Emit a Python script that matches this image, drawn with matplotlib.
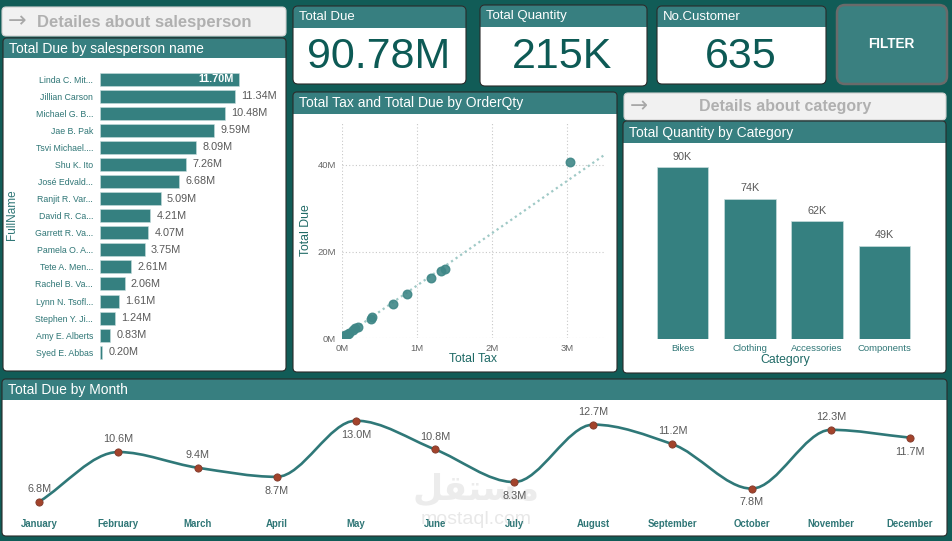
import numpy as np
import matplotlib.pyplot as plt
from matplotlib.patches import FancyBboxPatch, Rectangle, PathPatch
from matplotlib.path import Path
from matplotlib.ticker import FuncFormatter

plt.rcParams['font.family'] = ['Liberation Sans', 'DejaVu Sans']

W, H = 952, 541

# ---- data ----
person_names = ['Linda C. Mit...', 'Jillian Carson', 'Michael G. B...', 'Jae B. Pak',
                'Tsvi Michael....', 'Shu K. Ito', 'José Edvald...', 'Ranjit R. Var...',
                'David R. Ca...', 'Garrett R. Va...', 'Pamela O. A...', 'Tete A. Men...',
                'Rachel B. Va...', 'Lynn N. Tsofl...', 'Stephen Y. Ji...', 'Amy E. Alberts',
                'Syed E. Abbas']
person_due = [11.70, 11.34, 10.48, 9.59, 8.09, 7.26, 6.68, 5.09, 4.21, 4.07, 3.75,
              2.61, 2.06, 1.61, 1.24, 0.83, 0.20]

kpi_titles = ['Total Due', 'Total Quantity', 'No.Customer']
kpi_values = ['90.78M', '215K', '635']

# scatter: total tax vs total due (millions)
order_tax = [3.05, 1.38, 1.33, 1.19, 0.87, 0.68, 0.41, 0.39, 0.22, 0.18, 0.15,
             0.10, 0.08, 0.05, 0.03, 0.02, 0.01]
order_due = [40.8, 15.95, 15.5, 13.8, 10.1, 7.86, 4.8, 4.5, 2.6, 2.2, 1.8,
             1.2, 0.9, 0.6, 0.35, 0.2, 0.1]
# trend line as shown (tax in M -> due in M)
trend_tax = [0.0, 3.5]
trend_due = [0.0, 42.3]

categories = ['Bikes', 'Clothing', 'Accessories', 'Components']
category_qty = [90000, 73600, 61700, 48700]

months = ['January', 'February', 'March', 'April', 'May', 'June', 'July',
          'August', 'September', 'October', 'November', 'December']
month_due = [6.8, 10.6, 9.4, 8.7, 13.0, 10.8, 8.3, 12.7, 11.2, 7.8, 12.3, 11.7]
label_side = [1, 1, 1, -1, -1, 1, -1, 1, 1, -1, 1, -1]

# ---- colours ----
BG = '#115c57'
TEAL = '#377f80'
BAR = '#358080'
DARK = '#0d5a55'
TXT_TEAL = '#2f7676'
GREY = '#595959'

fig = plt.figure(figsize=(W / 100, H / 100), dpi=100, facecolor=BG)
bg = fig.add_axes([0, 0, 1, 1])
bg.set_xlim(0, W)
bg.set_ylim(H, 0)
bg.axis('off')


def ax_at(x0, y0, x1, y1):
    a = fig.add_axes([x0 / W, 1 - y1 / H, (x1 - x0) / W, (y1 - y0) / H])
    a.set_facecolor('none')
    return a


def panel(x0, y0, x1, y1, hb=None, title=None, r=4):
    body = FancyBboxPatch((x0, y0), x1 - x0, y1 - y0,
                          boxstyle=f'round,pad=0,rounding_size={r}', fc='white', ec='none')
    bg.add_patch(body)
    if hb is not None:
        band = Rectangle((x0, y0), x1 - x0, hb - y0, fc=TEAL, ec='none')
        bg.add_patch(band)
        band.set_clip_path(body)
    bg.add_patch(FancyBboxPatch((x0, y0), x1 - x0, y1 - y0,
                                boxstyle=f'round,pad=0,rounding_size={r}',
                                fc='none', ec='#2a2a2a', lw=0.8))
    if title:
        bg.text(x0 + 6, (y0 + hb) / 2 + 0.5, title, color='white', fontsize=10, va='center')


def button(x0, y0, x1, y1, text, tx, fs):
    bg.add_patch(FancyBboxPatch((x0, y0), x1 - x0, y1 - y0,
                                boxstyle='round,pad=0,rounding_size=4',
                                fc='#f1f1f1', ec='#d0d0d0', lw=0.8))
    bg.text(x0 + 6, (y0 + y1) / 2, '→', color='#a8a8a8', fontsize=fs + 4,
            va='center', ha='left', family='DejaVu Sans')
    bg.text(tx, (y0 + y1) / 2 + 0.5, text, color='#b0b0b0', fontsize=fs,
            fontweight='bold', va='center', ha='center')


# ---- top-left button + salesperson bars ----
button(2, 7, 286, 36, 'Detailes about salesperson', 144, 12)
panel(3, 38, 286, 371, hb=58, title='Total Due by salesperson name')

axb = ax_at(100, 70.5, 278.5, 360.8)
yy = np.arange(len(person_names))
axb.barh(yy, person_due, height=0.76, color=BAR, edgecolor='#c7dcdc', linewidth=0.4)
axb.set_xlim(0, 15)
axb.set_ylim(len(person_names) - 0.5, -0.5)
axb.set_yticks(yy)
axb.set_yticklabels(person_names, fontsize=6.3, color=TXT_TEAL)
axb.tick_params(axis='y', length=0, pad=5)
axb.set_xticks([])
for s in axb.spines.values():
    s.set_visible(False)
for i, v in enumerate(person_due):
    if i == 0:
        axb.annotate(f'{v:.2f}M', (v, i), xytext=(-4, 0), textcoords='offset points',
                     ha='right', va='center', color='white', fontsize=7.8, fontweight='bold')
    else:
        axb.annotate(f'{v:.2f}M', (v, i), xytext=(4.5, 0), textcoords='offset points',
                     ha='left', va='center', color=GREY, fontsize=7.8)
bg.text(12, 215, 'FullName', rotation=90, color=TXT_TEAL, fontsize=8.5, ha='center', va='center')

# ---- KPI cards ----
kpi_boxes = [(293, 6, 466, 84, 28), (480, 5, 647, 86, 27), (657, 6, 826, 84, 27)]
for (x0, y0, x1, y1, hb), t, v in zip(kpi_boxes, kpi_titles, kpi_values):
    panel(x0, y0, x1, y1, hb=hb, r=5)
    bg.text(x0 + 6, (y0 + hb) / 2 + 0.5, t, color='white', fontsize=9.5, va='center')
    bg.text((x0 + x1) / 2 - 1, 57, v, color=DARK, fontsize=31, ha='center', va='center')

bg.add_patch(FancyBboxPatch((837, 5), 110, 79, boxstyle='round,pad=0,rounding_size=8',
                            fc='#3a8080', ec='#6a6a6a', lw=1.8))
bg.text(891, 44, 'FILTER', color='white', fontsize=9.8, fontweight='bold', ha='center', va='center')

# ---- scatter ----
panel(293, 92, 617, 372, hb=114, title='Total Tax and Total Due by OrderQty')
axs = ax_at(341.7, 121.75, 604.2, 338)
tax = np.array(order_tax) * 1e6
due = np.array(order_due) * 1e6
axs.plot(np.array(trend_tax) * 1e6, np.array(trend_due) * 1e6, ls=(0, (1, 1.5)),
         color='#9fc9c6', lw=1.6, zorder=2)
axs.scatter(tax, due, s=38, color='#3f8787', alpha=0.9, edgecolor='#3f8787', zorder=3)
axs.set_xlim(0, 3.5e6)
axs.set_ylim(0, 50e6)
axs.set_xticks([0, 1e6, 2e6, 3e6])
axs.set_yticks([0, 20e6, 40e6])
fmt = FuncFormatter(lambda v, p: f'{v / 1e6:.0f}M')
axs.xaxis.set_major_formatter(fmt)
axs.yaxis.set_major_formatter(fmt)
axs.tick_params(length=0, labelsize=6.8, labelcolor='#666666', pad=4)
axs.grid(True, ls=(0, (1, 2)), color='#c8c8c8', lw=0.8)
axs.set_axisbelow(True)
for s in axs.spines.values():
    s.set_visible(False)
bg.text(306, 230, 'Total Due', rotation=90, color='#1f6a66', fontsize=8.8, ha='center', va='center')
bg.text(473, 359, 'Total Tax', color='#1f6a66', fontsize=8.8, ha='center', va='center')

# ---- category ----
button(624, 93, 946, 120, 'Details about category', 785, 11.5)
panel(623, 121, 946, 373, hb=143, title='Total Quantity by Category')
axc = ax_at(648.9, 148.3, 918.1, 338.7)
xc = np.arange(len(categories))
axc.bar(xc, category_qty, width=0.767, color=BAR, edgecolor='#c7dcdc', linewidth=0.5)
axc.set_xlim(-0.5, len(categories) - 0.5)
axc.set_ylim(0, 100000)
axc.set_xticks(xc)
axc.set_xticklabels(categories, fontsize=6.8, color=TXT_TEAL)
axc.tick_params(axis='x', length=0, pad=3.5)
axc.set_yticks([])
for s in axc.spines.values():
    s.set_visible(False)
for i, v in enumerate(category_qty):
    axc.annotate(f'{v / 1000:.0f}K', (i, v), xytext=(0, 7.6), textcoords='offset points',
                 ha='center', va='center', color=GREY, fontsize=7.8)
bg.text(785, 360, 'Category', color='#1f6a66', fontsize=8.8, ha='center', va='center')

# ---- monthly line ----
panel(2, 379, 947, 536, hb=400, title='Total Due by Month')
bg.text(476, 490, '\uFEDE\uFED8\uFE98\uFEB4\uFEE3', family='DejaVu Sans', fontsize=25,
        fontweight='bold', color='#ececec', ha='center', va='center')
bg.text(476, 519, 'mostaql.com', fontsize=14, color='#e8e8e8', ha='center', va='center')

axl = ax_at(7.6, 401.1, 941.6, 512.1)
xm = np.arange(len(months))
ym = np.array(month_due)
d = np.diff(ym)
m = np.zeros(len(ym))
m[0], m[-1] = d[0], d[-1]
for k in range(1, len(ym) - 1):
    if d[k - 1] * d[k] > 0:
        m[k] = 2 / (1 / d[k - 1] + 1 / d[k])
verts = [(xm[0], ym[0])]
codes = [Path.MOVETO]
for k in range(len(ym) - 1):
    verts += [(xm[k] + 1 / 3, ym[k] + m[k] / 3), (xm[k + 1] - 1 / 3, ym[k + 1] - m[k + 1] / 3),
              (xm[k + 1], ym[k + 1])]
    codes += [Path.CURVE4] * 3
axl.add_patch(PathPatch(Path(verts, codes), fc='none', ec='#2f7878', lw=1.9, zorder=2))
axl.plot(xm, ym, 'o', ms=5.2, mfc='#a3432b', mec='#7f3a2c', mew=0.6, zorder=3)
for i, v in enumerate(month_due):
    off = 9.3 if label_side[i] > 0 else -10
    axl.annotate(f'{v:.1f}M', (i, v), xytext=(0, off), textcoords='offset points',
                 ha='center', va='center', color=GREY, fontsize=7.8)
axl.set_xlim(-0.4, 11.4)
axl.set_ylim(6.0, 14.5)
axl.set_xticks(xm)
axl.set_xticklabels(months, fontsize=6.9, color=TXT_TEAL, fontweight='bold')
axl.tick_params(axis='x', length=0, pad=5)
axl.set_yticks([])
for s in axl.spines.values():
    s.set_visible(False)

fig.savefig('out.png', dpi=100, facecolor=BG)
